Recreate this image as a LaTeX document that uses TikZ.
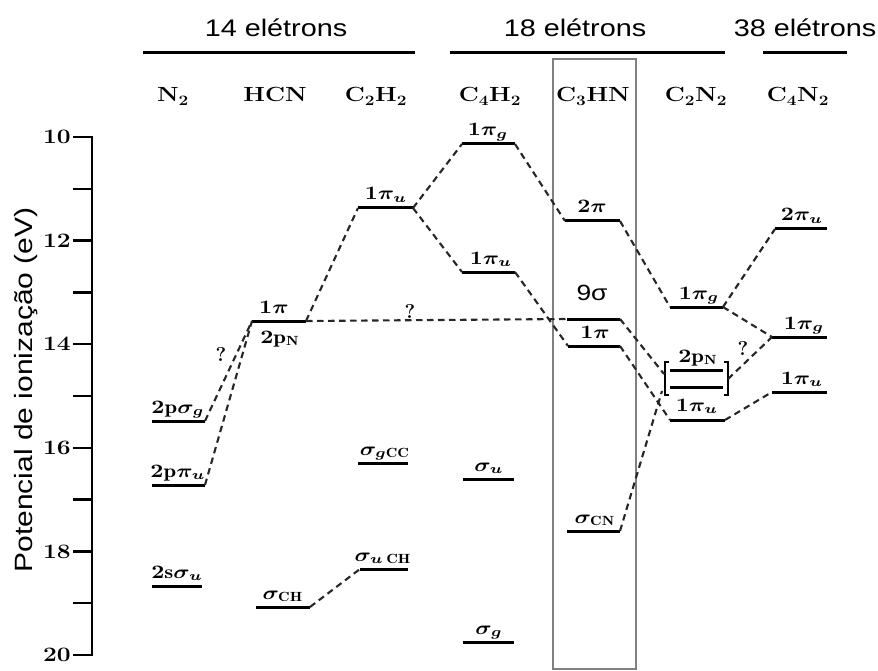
\documentclass[tikz,border=0pt]{standalone}
\usepackage{fontspec}
\usepackage{graphicx}
\newfontfamily\sansf{Liberation Sans}
\newcommand{\hs}[1]{\scalebox{1.2}[1]{#1}}
\newcommand{\lbl}[1]{\scalebox{2.28}[1.9]{\boldmath$#1$}}
\begin{document}
\begin{tikzpicture}[x=1pt,y=-1pt,
  lvl/.style={line width=3pt},
  conn/.style={line width=2.1pt, dash pattern=on 6.5pt off 4.5pt, black!85},
  lab/.style={anchor=base, inner sep=0pt},
  mol/.style={anchor=base, inner sep=0pt, font=\fontsize{20.5}{20.5}\selectfont\bfseries},
  hdr/.style={anchor=base, inner sep=0pt, font=\fontsize{24}{24}\selectfont\sansf},
  num/.style={anchor=east, inner sep=0pt, font=\fontsize{20.5}{20.5}\selectfont\bfseries},
  tk/.style={line width=2.3pt},
  hline/.style={line width=3pt},
  qm/.style={anchor=base, inner sep=0pt, font=\fontsize{20}{20}\selectfont\bfseries},
]
\useasboundingbox (0,0) rectangle (878,671);

% headers
\node[hdr] (h14) at (276,37) {\hs{14 elétrons}};
\node[hdr] (h18) at (575,37) {\hs{18 elétrons}};
\node[hdr] (h38) at (805,37) {\hs{38 elétrons}};
\coordinate (l14a) at (143,53); \coordinate (l14b) at (415,53);
\coordinate (l18a) at (450,53); \coordinate (l18b) at (725,53);
\coordinate (l38a) at (763,53); \coordinate (l38b) at (847,53);
\draw[hline] (l14a) -- (l14b);
\draw[hline] (l18a) -- (l18b);
\draw[hline] (l38a) -- (l38b);

% molecule labels
\node[mol] (mN2)   at (173,102) {\hs{N\textsubscript{2}}};
\node[mol] (mHCN)  at (275,102) {\hs{HCN}};
\node[mol] (mC2H2) at (376,102) {\hs{C\textsubscript{2}H\textsubscript{2}}};
\node[mol] (mC4H2) at (490,102) {\hs{C\textsubscript{4}H\textsubscript{2}}};
\node[mol] (mC3HN) at (593,102) {\hs{C\textsubscript{3}HN}};
\node[mol] (mC2N2) at (696,102) {\hs{C\textsubscript{2}N\textsubscript{2}}};
\node[mol] (mC4N2) at (798,102) {\hs{C\textsubscript{4}N\textsubscript{2}}};

% C3HN box
\draw[black!50, line width=2pt] (553,59) rectangle (636,669);

% axis
\coordinate (axT) at (92,137); \coordinate (axB) at (92,655);
\draw[line width=2.6pt] (axT) -- (axB);
\foreach \e in {10,...,20}
  \draw[tk] (73,{137+51.8*(\e-10)}) -- (93,{137+51.8*(\e-10)});
\foreach \e in {10,12,...,20}
  \node[num] (t\e) at (71,{137+51.8*(\e-10)}) {\hs{\e}};
\node[anchor=base, rotate=90, inner sep=0pt, font=\fontsize{25}{25}\selectfont\sansf] (ylab) at (32,390) {\hs{Potencial de ionização (eV)}};

% level coordinates
% N2
\coordinate (nA1) at (152,421); \coordinate (nA2) at (205,421);
\coordinate (nB1) at (152,485); \coordinate (nB2) at (205,485);
\coordinate (nC1) at (152,586); \coordinate (nC2) at (202,586);
% HCN
\coordinate (hA1) at (252,321); \coordinate (hA2) at (306,321);
\coordinate (hB1) at (256,607); \coordinate (hB2) at (310,607);
% C2H2
\coordinate (aA1) at (358,208); \coordinate (aA2) at (413,208);
\coordinate (aB1) at (358,463); \coordinate (aB2) at (408,463);
\coordinate (aC1) at (360,569); \coordinate (aC2) at (408,569);
% C4H2
\coordinate (bA1) at (462,144); \coordinate (bA2) at (515,144);
\coordinate (bB1) at (462,272); \coordinate (bB2) at (515,272);
\coordinate (bC1) at (463,479); \coordinate (bC2) at (514,479);
\coordinate (bD1) at (463,642); \coordinate (bD2) at (514,642);
% C3HN
\coordinate (cA1) at (565,221); \coordinate (cA2) at (620,221);
\coordinate (cB1) at (567,319); \coordinate (cB2) at (620,319);
\coordinate (cC1) at (568,346); \coordinate (cC2) at (620,346);
\coordinate (cD1) at (567,531); \coordinate (cD2) at (620,531);
% C2N2
\coordinate (dA1) at (670,307); \coordinate (dA2) at (723,307);
\coordinate (dB1) at (670,370); \coordinate (dB2) at (723,370);
\coordinate (dC1) at (670,387); \coordinate (dC2) at (723,387);
\coordinate (dD1) at (670,420); \coordinate (dD2) at (725,420);
\coordinate (dL)  at (664,374); \coordinate (dLb) at (662,391);
\coordinate (dR)  at (728,379);
% C4N2
\coordinate (eA1) at (775,229); \coordinate (eA2) at (827,229);
\coordinate (eB1) at (772,337); \coordinate (eB2) at (827,337);
\coordinate (eC1) at (772,392); \coordinate (eC2) at (827,392);

% levels
\foreach \a/\b in {nA1/nA2,nB1/nB2,nC1/nC2,hA1/hA2,hB1/hB2,aA1/aA2,aB1/aB2,aC1/aC2,
  bA1/bA2,bB1/bB2,bC1/bC2,bD1/bD2,cA1/cA2,cB1/cB2,cC1/cC2,cD1/cD2,
  dA1/dA2,dB1/dB2,dC1/dC2,dD1/dD2,eA1/eA2,eB1/eB2,eC1/eC2}
  \draw[lvl] (\a) -- (\b);
% brackets
\draw[line width=1.8pt] (669,362) -- (665,362) -- (665,395) -- (669,395);
\draw[line width=1.8pt] (724,362) -- (728,362) -- (728,395) -- (724,395);

% connectors
\draw[conn] (nA2) -- (hA1);
\draw[conn] (nB2) -- (hA1);
\draw[conn] (hA2) -- (aA1);
\draw[conn] (hA2) -- (cB1);
\draw[conn] (hB2) -- (aC1);
\draw[conn] (aA2) -- (bA1);
\draw[conn] (aA2) -- (bB1);
\draw[conn] (bA2) -- (cA1);
\draw[conn] (bB2) -- (cC1);
\draw[conn] (cA2) -- (dA1);
\draw[conn] (cB2) -- (dL);
\draw[conn] (cC2) -- (dD1);
\draw[conn] (cD2) -- (dLb);
\draw[conn] (dA2) -- (eA1);
\draw[conn] (dA2) -- (eB1);
\draw[conn] (dR) -- (eB1);
\draw[conn] (dD2) -- (eC1);

% level labels
\node[lab] (LnA) at (178,413) {\lbl{2\mathrm{p}\sigma_g}};
\node[lab] (LnB) at (178,477) {\lbl{2\mathrm{p}\pi_u}};
\node[lab] (LnC) at (177,578) {\lbl{2\mathrm{s}\sigma_u}};
\node[lab] (LhA) at (274,313) {\lbl{1\pi}};
\node[lab] (LhN) at (280,343) {\lbl{2\mathrm{p}_{\mathrm{N}}}};
\node[lab] (LhB) at (283,599) {\lbl{\sigma_{\mathrm{CH}}}};
\node[lab] (LaA) at (386,200) {\lbl{1\pi_u}};
\node[lab] (LaB) at (385,455) {\lbl{\sigma_{g\mathrm{CC}}}};
\node[lab] (LaC) at (383,561) {\lbl{\sigma_{u\,\mathrm{CH}}}};
\node[lab] (LbA) at (488,136) {\lbl{1\pi_g}};
\node[lab] (LbB) at (491,264) {\lbl{1\pi_u}};
\node[lab] (LbC) at (489,471) {\lbl{\sigma_u}};
\node[lab] (LbD) at (489,634) {\lbl{\sigma_g}};
\node[lab] (LcA) at (592,213) {\lbl{2\pi}};
\node[anchor=base, inner sep=0pt, font=\fontsize{22}{22}\selectfont\sansf] (LcB) at (592,300) {\hs{9σ}};
\node[lab] (LcC) at (595,338) {\lbl{1\pi}};
\node[lab] (LcD) at (595,523) {\lbl{\sigma_{\mathrm{CN}}}};
\node[lab] (LdA) at (699,299) {\lbl{1\pi_g}};
\node[lab] (LdB) at (698,362) {\lbl{2\mathrm{p}_{\mathrm{N}}}};
\node[lab] (LdD) at (697,411) {\lbl{1\pi_u}};
\node[lab] (LeA) at (802,221) {\lbl{2\pi_u}};
\node[lab] (LeB) at (804,329) {\lbl{1\pi_g}};
\node[lab] (LeC) at (802,384) {\lbl{1\pi_u}};
% question marks
\node[qm] (q1) at (221,361) {?};
\node[qm] (q2) at (410,318) {?};
\node[qm] (q3) at (743,355) {?};
\end{tikzpicture}
\end{document}
